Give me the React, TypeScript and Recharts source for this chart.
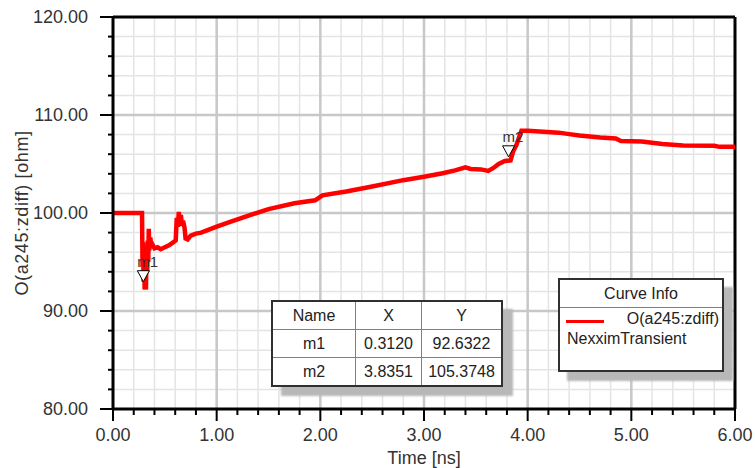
import React from "react";
import {
  ComposedChart,
  Line,
  XAxis,
  YAxis,
  CartesianGrid,
  ReferenceLine,
  ReferenceDot,
} from "recharts";

// Transient differential impedance
const TIME_NS = [
  0, 0.28, 0.285, 0.29, 0.295, 0.3, 0.305, 0.312, 0.318, 0.322, 0.33, 0.335, 0.34, 0.345, 0.35, 0.36,
  0.37, 0.38, 0.4, 0.43, 0.46, 0.5, 0.54, 0.58, 0.605, 0.615, 0.625, 0.635, 0.645, 0.655, 0.665, 0.675,
  0.69, 0.7, 0.72, 0.75, 0.8, 0.85, 0.9, 0.95, 1.0, 1.13, 1.3, 1.5, 1.75, 1.95, 2.02, 2.25, 2.5, 2.8,
  3.0, 3.18, 3.3, 3.4, 3.45, 3.55, 3.62, 3.67, 3.72, 3.78, 3.835, 3.86, 3.89, 3.92, 3.94, 4.0, 4.15,
  4.3, 4.4, 4.5, 4.7, 4.85, 4.9, 5.1, 5.3, 5.5, 5.8, 5.85, 6.0,
];
const ZDIFF_OHM = [
  100, 100, 94.5, 97, 93, 96.5, 92.2, 92.6, 92.2, 95, 94, 97.2, 95, 98.4, 96.2, 97.5,
  96.5, 96.8, 96.4, 96.5, 96.3, 96.5, 96.7, 97.0, 97.2, 99.5, 98.6, 100.1, 98.8, 99.8, 98.7, 99.2,
  98.5, 97.4, 97.3, 97.7, 97.9, 98.0, 98.2, 98.4, 98.6, 99.1, 99.7, 100.4, 101.0, 101.3, 101.8, 102.2, 102.7, 103.35,
  103.7, 104.05, 104.35, 104.65, 104.5, 104.45, 104.3, 104.6, 105.0, 105.3, 105.37, 106.3, 106.9, 107.8, 108.4, 108.4, 108.3,
  108.2, 108.05, 107.9, 107.7, 107.6, 107.35, 107.3, 107.05, 106.9, 106.85, 106.75, 106.75,
];

const MARKER_NAMES = ["m1", "m2"];
const MARKER_X = [0.312, 3.8351];
const MARKER_Y = [92.6322, 105.3748];

const X_TICKS = [
  0, 0.2, 0.4, 0.6, 0.8, 1, 1.2, 1.4, 1.6, 1.8, 2, 2.2, 2.4, 2.6, 2.8, 3, 3.2, 3.4, 3.6, 3.8,
  4, 4.2, 4.4, 4.6, 4.8, 5, 5.2, 5.4, 5.6, 5.8, 6,
];
const Y_TICKS = [80, 82, 84, 86, 88, 90, 92, 94, 96, 98, 100, 102, 104, 106, 108, 110, 112, 114, 116, 118, 120];
const X_MAJOR = [1, 2, 3, 4, 5];
const Y_MAJOR = [90, 100, 110];

const FONT = '"Liberation Sans", Arial, sans-serif';

const data = TIME_NS.map((t, i) => ({ t, z: ZDIFF_OHM[i] }));

const isMajor = (v: number, step: number) => Math.abs(v / step - Math.round(v / step)) < 1e-6;

function XTick(props: any) {
  const { x, y, payload } = props;
  const major = isMajor(payload.value, 1);
  return (
    <g>
      <line x1={x} x2={x} y1={y} y2={y + (major ? 12 : 6)} stroke="#000" strokeWidth={2} />
      {major && (
        <text x={x} y={y + 26} dy="0.35em" textAnchor="middle" fontSize={18} fill="#333" fontFamily={FONT}>
          {payload.value.toFixed(2)}
        </text>
      )}
    </g>
  );
}

function YTick(props: any) {
  const { x, y, payload } = props;
  const major = isMajor(payload.value, 10);
  return (
    <g>
      <line x1={x - (major ? 13 : 5)} x2={x} y1={y} y2={y} stroke="#000" strokeWidth={2} />
      {major && (
        <text x={x - 25} y={y} dy="0.35em" textAnchor="end" fontSize={18} fill="#333" fontFamily={FONT}>
          {payload.value.toFixed(2)}
        </text>
      )}
    </g>
  );
}

function markerShape(name: string) {
  return (p: any) => {
    const tx = p.cx - 2;
    const ty = p.cy - 3.5;
    return (
      <g>
        <polygon
          points={`${tx - 6},${ty - 11} ${tx + 6},${ty - 11} ${tx},${ty}`}
          fill="#fff"
          stroke="#000"
          strokeWidth={1}
        />
        <text x={tx - 6} y={ty - 15} fontSize={15} fill="#333" fontFamily={FONT}>
          {name}
        </text>
      </g>
    );
  };
}

const cell: React.CSSProperties = {
  border: "1px solid #808080",
  textAlign: "center",
  padding: 0,
  height: 27,
};

export default function App() {
  return (
    <div
      style={{
        position: "fixed",
        left: 0,
        top: 0,
        width: 755,
        height: 468,
        background: "#fff",
        fontFamily: FONT,
      }}
    >
      <ComposedChart width={755} height={468} data={data} margin={{ top: 17, right: 20, bottom: 0, left: 0 }}>
        <CartesianGrid stroke="#e4e4e4" strokeWidth={1.5} />
        {X_MAJOR.map((v) => (
          <ReferenceLine key={"vx" + v} x={v} stroke="#c8c8c8" strokeWidth={2.5} />
        ))}
        {Y_MAJOR.map((v) => (
          <ReferenceLine key={"hy" + v} y={v} stroke="#c8c8c8" strokeWidth={2.5} />
        ))}
        <XAxis
          dataKey="t"
          type="number"
          domain={[0, 6]}
          ticks={X_TICKS}
          interval={0}
          tickSize={0}
          tickMargin={0}
          tickLine={false}
          tick={<XTick />}
          height={59}
          axisLine={{ stroke: "#000", strokeWidth: 3 }}
          label={{
            value: "Time [ns]",
            position: "insideBottom",
            offset: 4,
            style: { fontSize: 18, fill: "#333", fontFamily: FONT },
          }}
        />
        <YAxis
          type="number"
          domain={[80, 120]}
          ticks={Y_TICKS}
          interval={0}
          tickSize={0}
          tickMargin={0}
          tickLine={false}
          tick={<YTick />}
          width={113}
          axisLine={{ stroke: "#000", strokeWidth: 3 }}
          label={{
            value: "O(a245:zdiff) [ohm]",
            angle: -90,
            position: "center",
            dx: -35,
            dy: 0,
            style: { fontSize: 18, fill: "#333", fontFamily: FONT, textAnchor: "middle", letterSpacing: 0.6 },
          }}
        />
        <ReferenceLine y={120} stroke="#000" strokeWidth={3} />
        <ReferenceLine x={6} stroke="#000" strokeWidth={3} />
        <Line
          dataKey="z"
          type="linear"
          stroke="#ff0000"
          strokeWidth={4.5}
          dot={false}
          isAnimationActive={false}
        />
        {MARKER_NAMES.map((n, i) => (
          <ReferenceDot
            key={n}
            x={MARKER_X[i]}
            y={MARKER_Y[i]}
            ifOverflow="visible"
            shape={markerShape(n)}
          />
        ))}
      </ComposedChart>

      {/* marker table */}
      <div
        style={{
          position: "absolute",
          left: 271,
          top: 300,
          width: 232,
          background: "#fff",
          border: "2px solid #303030",
          boxShadow: "10px 9px 2px #b8b8b8",
          boxSizing: "border-box",
        }}
      >
        <table style={{ borderCollapse: "collapse", width: "100%", fontSize: 16, color: "#222", fontFamily: FONT }}>
          <tbody>
            <tr>
              <td style={{ ...cell, width: 82, borderTop: "none", borderLeft: "none" }}>Name</td>
              <td style={{ ...cell, width: 65, borderTop: "none" }}>X</td>
              <td style={{ ...cell, borderTop: "none", borderRight: "none" }}>Y</td>
            </tr>
            {MARKER_NAMES.map((n, i) => (
              <tr key={n}>
                <td style={{ ...cell, borderLeft: "none", borderBottom: i === 1 ? "none" : cell.border }}>{n}</td>
                <td style={{ ...cell, borderBottom: i === 1 ? "none" : cell.border }}>{MARKER_X[i].toFixed(4)}</td>
                <td style={{ ...cell, borderRight: "none", borderBottom: i === 1 ? "none" : cell.border }}>
                  {MARKER_Y[i].toFixed(4)}
                </td>
              </tr>
            ))}
          </tbody>
        </table>
      </div>

      {/* curve info box */}
      <div
        style={{
          position: "absolute",
          left: 558,
          top: 278,
          width: 166,
          height: 94,
          background: "#fff",
          border: "2px solid #303030",
          boxShadow: "9px 9px 2px #b8b8b8",
          boxSizing: "border-box",
          fontSize: 16,
          color: "#222",
        }}
      >
        <div style={{ height: 27, borderBottom: "1px solid #808080", textAlign: "center", lineHeight: "27px" }}>
          Curve Info
        </div>
        <div style={{ position: "relative", height: 22 }}>
          <div style={{ position: "absolute", left: 6, top: 12, width: 38, height: 3, background: "#ff0000" }} />
          <div style={{ position: "absolute", right: 3, top: 2 }}>O(a245:zdiff)</div>
        </div>
        <div style={{ paddingLeft: 7, lineHeight: "18px" }}>NexximTransient</div>
      </div>
    </div>
  );
}
